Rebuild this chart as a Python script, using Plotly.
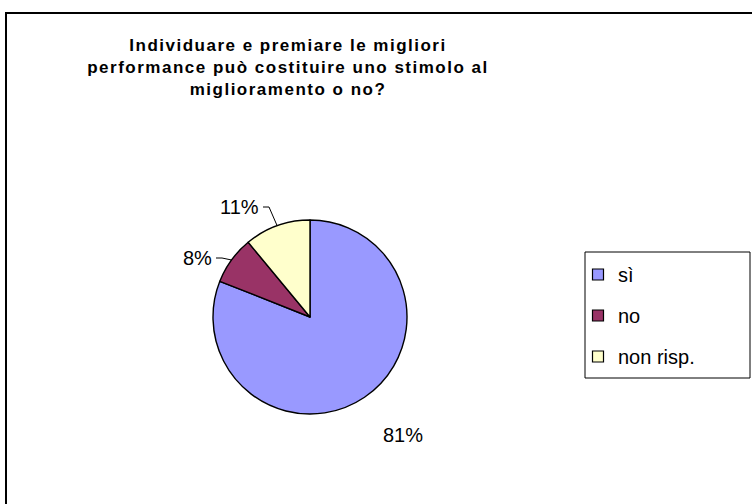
import math
import plotly.graph_objects as go

# ---- data ----
categories = ["sì", "no", "non risp."]
values = [81, 8, 11]
colors = ["#9999FF", "#993366", "#FFFFCC"]
title_lines = ["Individuare e premiare le migliori",
               "performance può costituire uno stimolo al",
               "miglioramento o no?"]

W, H = 752, 504
CX, CY, R = 310, 317, 97          # pie centre / radius in px
LABEL_FONT = dict(family="Liberation Sans, Arial", size=20, color="black")


def px(x):
    return x / W


def py(y):
    return 1 - y / H


fig = go.Figure()
fig.add_trace(go.Pie(
    labels=categories, values=values, sort=False, direction="clockwise",
    rotation=0, marker=dict(colors=colors, line=dict(color="black", width=1.4)),
    textinfo="none", hoverinfo="label+percent",
    domain=dict(x=[px(CX - R), px(CX + R)], y=[py(CY + R), py(CY - R)]),
    showlegend=False,
))

# legend entries (Excel-style square keys)
for cat, col in zip(categories, colors):
    fig.add_trace(go.Scatter(
        x=[None], y=[None], mode="markers", name=cat, legendgroup=cat,
        marker=dict(symbol="square", size=11, color=col,
                    line=dict(color="black", width=1.2)),
        showlegend=True, hoverinfo="skip"))

# label placement: (anchor px offset from centre, xanchor, leader?)
label_place = {
    "sì": ((93, 118), "center", False),
    "no": ((-97, -59), "right", True),
    "non risp.": ((-50, -110), "right", True),
}

total = sum(values)
cum = 0
annotations = []
shapes = []
for cat, v in zip(categories, values):
    mid = (cum + v / 2) / total * 2 * math.pi
    cum += v
    pct = round(v / total * 100)
    (dx, dy), xa, has_leader = label_place[cat]
    lx, ly = CX + dx, CY + dy
    annotations.append(dict(
        x=px(lx), y=py(ly), xref="paper", yref="paper", showarrow=False,
        text=f"{pct}%", font=LABEL_FONT, xanchor=xa, yanchor="middle",
        borderpad=0))
    if has_leader:
        ex, ey = CX + R * math.sin(mid), CY - R * math.cos(mid)
        sx = lx + 3
        elbow_x = sx + 6
        path = (f"M {px(sx)},{py(ly)} L {px(elbow_x)},{py(ly)} "
                f"L {px(ex)},{py(ey)}")
        shapes.append(dict(type="path", path=path, xref="paper", yref="paper",
                           line=dict(color="black", width=1)))

# outer chart border and legend box
shapes.append(dict(type="rect", xref="paper", yref="paper",
                   x0=px(6), x1=px(770), y0=py(520), y1=py(13),
                   line=dict(color="black", width=2)))
shapes.append(dict(type="rect", xref="paper", yref="paper",
                   x0=px(585), x1=px(750), y0=py(378), y1=py(252),
                   line=dict(color="black", width=1)))

title_html = "<br>".join(
    f"<span style='letter-spacing:1.5px'>{t}</span>" for t in title_lines)

fig.update_layout(
    width=W, height=H, margin=dict(l=0, r=0, t=0, b=0),
    paper_bgcolor="white", plot_bgcolor="white",
    xaxis=dict(visible=False), yaxis=dict(visible=False),
    title=dict(text=title_html, x=px(288), xanchor="center",
               y=py(51), yanchor="middle",
               font=dict(family="Liberation Sans, Arial", size=17,
                         color="black", weight="bold")),
    legend=dict(x=px(578), y=py(255), xanchor="left", yanchor="top",
                borderwidth=0, bgcolor="rgba(0,0,0,0)",
                font=dict(family="Liberation Sans, Arial", size=20, color="black"),
                tracegroupgap=12, itemwidth=30),
    annotations=annotations, shapes=shapes,
)

fig.write_html("out.html", config={"displayModeBar": False},
               post_script="document.body.style.margin='0';")
